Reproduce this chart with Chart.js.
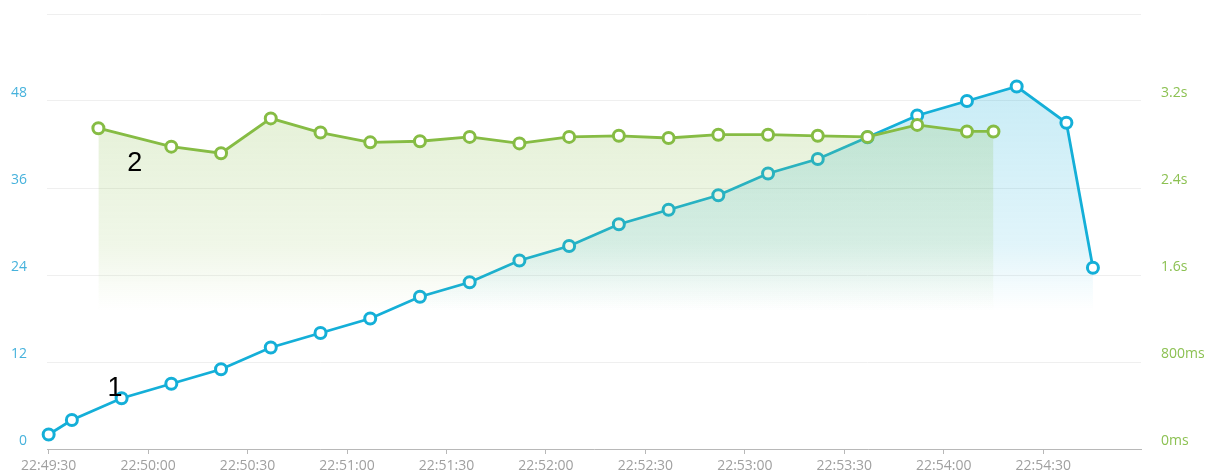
<!DOCTYPE html>
<html>
<head>
<meta charset="utf-8">
<script src="https://cdn.jsdelivr.net/npm/chart.js@4/dist/chart.umd.min.js"></script>
<style>
  html, body { margin: 0; padding: 0; background: #fff; }
  #wrap { width: 1208px; height: 476px; position: relative; }
</style>
</head>
<body>
<div id="wrap"><canvas id="c"></canvas></div>
<script>
/* ===== requests vs. response time ===== */
var xTicks = ["22:49:30", "22:50:00", "22:50:30", "22:51:00", "22:51:30", "22:52:00",
              "22:52:30", "22:53:00", "22:53:30", "22:54:00", "22:54:30"];

// series 1 (blue, left axis)
var blueTimes = ["22:49:30", "22:49:37", "22:49:52", "22:50:07", "22:50:22", "22:50:37", "22:50:52",
                 "22:51:07", "22:51:22", "22:51:37", "22:51:52", "22:52:07", "22:52:22", "22:52:37",
                 "22:52:52", "22:53:07", "22:53:22", "22:53:37", "22:53:52", "22:54:07", "22:54:22",
                 "22:54:37", "22:54:45"];
var blueValues = [2, 4, 7, 9, 11, 14, 16, 18, 21, 23, 26, 28, 31, 33, 35, 38, 40, 43, 46, 48, 50, 45, 25];

// series 2 (green, right axis, ms)
var greenTimes = ["22:49:45", "22:50:07", "22:50:22", "22:50:37", "22:50:52", "22:51:07", "22:51:22",
                  "22:51:37", "22:51:52", "22:52:07", "22:52:22", "22:52:37", "22:52:52", "22:53:07",
                  "22:53:22", "22:53:37", "22:53:52", "22:54:07", "22:54:15"];
var greenMs = [2950, 2780, 2720, 3040, 2910, 2820, 2830, 2870, 2810, 2870, 2880, 2860, 2890, 2890,
               2880, 2870, 2980, 2920, 2920];

var leftTicks = [0, 12, 24, 36, 48, 60];
var rightTicks = [0, 800, 1600, 2400, 3200, 4000];

// the two hand-written markers on the picture
var notes = [
  { text: "1", t: "22:49:50", v: 8.4 },
  { text: "2", t: "22:49:56", v: 39.4 }
];

(function () {
  "use strict";

  var BLUE = "#14afd8", GREEN = "#86bc44";

  function sec(s) {
    var p = s.split(":");
    return (+p[0]) * 3600 + (+p[1]) * 60 + (+p[2]);
  }
  function pad(n) { return (n < 10 ? "0" : "") + n; }
  function hms(v) {
    v = Math.round(v);
    return pad(Math.floor(v / 3600)) + ":" + pad(Math.floor(v / 60) % 60) + ":" + pad(v % 60);
  }
  function pairs(times, vals) {
    return times.map(function (t, i) { return { x: sec(t), y: vals[i] }; });
  }
  function msLabel(v) {
    if (v === 4000) return "";
    return v < 1000 ? v + "ms" : (v / 1000) + "s";
  }

  function fade(rgb, topA) {
    return function (c) {
      var chart = c.chart, area = chart.chartArea, y = chart.scales.y;
      if (!area) return "rgba(" + rgb + ",0)";
      var g = chart.ctx.createLinearGradient(0, y.getPixelForValue(50), 0, y.getPixelForValue(19));
      g.addColorStop(0, "rgba(" + rgb + "," + topA + ")");
      g.addColorStop(0.7, "rgba(" + rgb + "," + (topA * 0.55) + ")");
      g.addColorStop(1, "rgba(" + rgb + ",0)");
      return g;
    };
  }

  // keep the plot box where the picture has it
  function fixWidth(w) {
    return function (s) { s.width = w; s.paddingTop = 0; s.paddingBottom = 0; };
  }

  var notePlugin = {
    id: "notes",
    afterDatasetsDraw: function (chart) {
      var ctx = chart.ctx, xs = chart.scales.x, ys = chart.scales.y;
      ctx.save();
      ctx.fillStyle = "#000";
      ctx.font = "27px 'Liberation Sans', Arial, sans-serif";
      ctx.textAlign = "center";
      ctx.textBaseline = "middle";
      notes.forEach(function (n) {
        ctx.fillText(n.text, xs.getPixelForValue(sec(n.t)), ys.getPixelForValue(n.v));
      });
      ctx.restore();
    }
  };

  var tickFont = { family: "'Open Sans', sans-serif", size: 14 };

  new Chart(document.getElementById("c"), {
    type: "line",
    data: {
      datasets: [
        {
          label: "2", data: pairs(greenTimes, greenMs), yAxisID: "y1",
          borderColor: GREEN, borderWidth: 2.8, backgroundColor: fade("140,192,80", 0.24), fill: "origin",
          pointRadius: 5.5, pointBorderWidth: 3, pointBackgroundColor: "#fff", pointBorderColor: GREEN,
          tension: 0, clip: false
        },
        {
          label: "1", data: pairs(blueTimes, blueValues), yAxisID: "y",
          borderColor: BLUE, borderWidth: 2.8, backgroundColor: fade("28,176,218", 0.24), fill: "origin",
          pointRadius: 5.5, pointBorderWidth: 3, pointBackgroundColor: "#fff", pointBorderColor: BLUE,
          tension: 0, clip: false
        }
      ]
    },
    options: {
      responsive: true,
      maintainAspectRatio: false,
      animation: false,
      events: [],
      layout: { padding: { top: 14, left: 0, right: 0, bottom: 0 } },
      plugins: { legend: { display: false }, tooltip: { enabled: false } },
      scales: {
        x: {
          type: "linear",
          min: sec(xTicks[0]) - 0.5,
          max: sec(xTicks[xTicks.length - 1]) + 29.5,
          afterBuildTicks: function (s) { s.ticks = xTicks.map(function (t) { return { value: sec(t) }; }); },
          afterFit: function (s) { s.height = 27; s.paddingLeft = 0; s.paddingRight = 0; },
          border: { display: true, color: "#b8b8b8", width: 1 },
          grid: { drawOnChartArea: false, drawTicks: true, tickLength: 5, color: "#b8b8b8" },
          ticks: { color: "#a0a0a0", font: tickFont, padding: 4, maxRotation: 0, autoSkip: false,
                   callback: function (v) { return hms(v); } }
        },
        y: {
          position: "left", min: 0, max: 60,
          afterBuildTicks: function (s) { s.ticks = leftTicks.map(function (v) { return { value: v }; }); },
          afterFit: fixWidth(47),
          border: { display: false },
          grid: { color: "#efefef", drawTicks: false },
          ticks: { color: "#46b2dc", font: tickFont, padding: 20, labelOffset: -8,
                   callback: function (v) { return v === 60 ? "" : v; } }
        },
        y1: {
          position: "right", min: 0, max: 4000,
          afterBuildTicks: function (s) { s.ticks = rightTicks.map(function (v) { return { value: v }; }); },
          afterFit: fixWidth(67),
          border: { display: false },
          grid: { drawOnChartArea: false, drawTicks: false },
          ticks: { color: "#8cc152", font: tickFont, padding: 20, labelOffset: -8, callback: msLabel }
        }
      }
    },
    plugins: [notePlugin]
  });
})();
</script>
</body>
</html>
